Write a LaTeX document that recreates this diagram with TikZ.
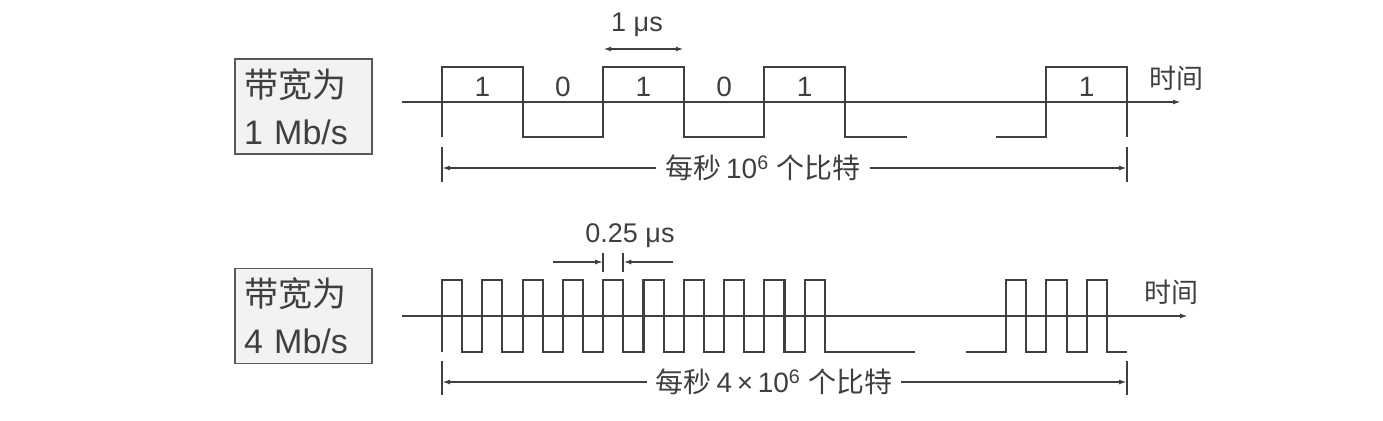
\documentclass[tikz,border=0pt]{standalone}
\usepackage{fontspec}
\setmainfont{Liberation Sans}
\newfontfamily\cjk{Noto Sans CJK SC}
\usetikzlibrary{arrows.meta}

\definecolor{ink}{HTML}{3F3F3F}
\definecolor{boxfill}{HTML}{F2F2F2}
\definecolor{boxline}{HTML}{595959}

\tikzset{
    sig/.style={line width=2.1pt, draw=ink},
    axisline/.style={line width=2.1pt, draw=ink, -{Latex[length=8pt,width=5pt]}},
    dimline/.style={line width=1.7pt, draw=ink},
    dimarrow/.style={dimline, -{Latex[length=8pt,width=5pt]}},
    bwbox/.style={draw=boxline, fill=boxfill, line width=1.2pt, text=ink,
        text width=119pt, inner xsep=9pt, minimum height=95pt, align=left,
        font=\fontsize{34}{47}\selectfont},
    bitlabel/.style={text=ink, font=\fontsize{28}{32}\selectfont},
    smalllabel/.style={text=ink, font=\fontsize{27}{32}\selectfont},
    countlabel/.style={text=ink, inner xsep=9pt, font=\fontsize{28}{32}\selectfont},
    timelabel/.style={text=ink, font=\fontsize{27}{32}\selectfont\cjk}
}

\begin{document}
\begin{tikzpicture}[x=1pt,y=-1pt]

    \useasboundingbox (0,0) rectangle (1383,420);

    % 基本の値
    \pgfmathsetmacro{\xO}{442}
    \pgfmathsetmacro{\xE}{1127}
    \pgfmathsetmacro{\T}{(\xE-\xO)/8.5}
    \pgfmathsetmacro{\tq}{\T/4}

    \pgfmathsetmacro{\hiA}{67}
    \pgfmathsetmacro{\loA}{137}
    \pgfmathsetmacro{\axA}{102}

    \pgfmathsetmacro{\hiB}{280}
    \pgfmathsetmacro{\loB}{352}
    \pgfmathsetmacro{\axB}{316}

    % 左の箱
    \node[bwbox] (bwA) at (303.5,106.5) {{\cjk 带宽为}\\1 Mb/s};
    \node[bwbox] (bwB) at (303.5,316) {{\cjk 带宽为}\\4 Mb/s};

    % 時間軸
    \coordinate (axA0) at (402,\axA);
    \coordinate (axA1) at (1181,\axA);
    \coordinate (axB0) at (402,\axB);
    \coordinate (axB1) at (1188,\axB);
    \draw [axisline] (axA0) -- (axA1);
    \draw [axisline] (axB0) -- (axB1);
    \node[timelabel] (tmA) at (1176,78) {时间};
    \node[timelabel] (tmB) at (1171,292) {时间};

    % 上段の信号 (1 Mb/s)
    \draw [sig] (\xO,\loA) |- ({\xO+\T},\hiA) |- ({\xO+2*\T},\loA)
        |- ({\xO+3*\T},\hiA) |- ({\xO+4*\T},\loA) |- ({\xO+5*\T},\hiA)
        |- ({\xO+5.77*\T},\loA);
    \draw [sig] (996,\loA) -- ({\xO+7.5*\T},\loA) |- (\xE,\hiA) -- (\xE,\loA);

    \foreach \b [count=\i from 0] in {1,0,1,0,1}
        \node[bitlabel] (bit\i) at ({\xO+(\i+0.5)*\T},87) {\b};
    \node[bitlabel] (bit8) at ({\xO+8*\T},87) {1};

    % 下段の信号 (4 Mb/s)
    \draw [sig] (\xO,\loB) \foreach \k in {1,...,10} {
        |- ++(\tq,{\hiB-\loB}) |- ++(\tq,{\loB-\hiB}) } -- (915,\loB);
    \draw [sig] (966,\loB) -- ({\xO+28*\tq},\loB) \foreach \k in {1,2,3} {
        |- ++(\tq,{\hiB-\loB}) |- ++(\tq,{\loB-\hiB}) };

    % 1 μs の寸法
    \node[smalllabel] (usA) at (637,25) {1 μs};
    \coordinate (pA1) at ({\xO+2*\T},49);
    \coordinate (pA2) at ({\xO+3*\T},49);
    \draw [dimline, {Latex[length=8pt,width=5pt]}-{Latex[length=8pt,width=5pt]}] (pA1) -- (pA2);

    % 0.25 μs の寸法
    \node[smalllabel] (usB) at (630,236) {0.25 μs};
    \coordinate (qB1) at ({\xO+8*\tq},262);
    \coordinate (qB2) at ({\xO+9*\tq},262);
    \coordinate (qL) at (553,262);
    \coordinate (qR) at (673,262);
    \draw [dimline] ([yshift=9pt]qB1) -- ([yshift=-10pt]qB1);
    \draw [dimline] ([yshift=9pt]qB2) -- ([yshift=-10pt]qB2);
    \draw [dimarrow] (qL) -- (qB1);
    \draw [dimarrow] (qR) -- (qB2);

    % 1 秒間の寸法
    \coordinate (dA1) at (\xO,168);
    \coordinate (dA2) at (\xE,168);
    \draw [dimline] ([yshift=21pt]dA1) -- ([yshift=-14pt]dA1);
    \draw [dimline] ([yshift=21pt]dA2) -- ([yshift=-14pt]dA2);
    \node[countlabel] (cntA) at (763,168) {{\cjk 每秒}\,10\textsuperscript{6} {\cjk 个比特}};
    \draw [dimarrow] (cntA.west) -- (dA1);
    \draw [dimarrow] (cntA.east) -- (dA2);

    \coordinate (dB1) at (\xO,382);
    \coordinate (dB2) at (\xE,382);
    \draw [dimline] ([yshift=21pt]dB1) -- ([yshift=-13pt]dB1);
    \draw [dimline] ([yshift=21pt]dB2) -- ([yshift=-13pt]dB2);
    \node[countlabel] (cntB) at (774,382) {{\cjk 每秒}\,4\,×\,10\textsuperscript{6} {\cjk 个比特}};
    \draw [dimarrow] (cntB.west) -- (dB1);
    \draw [dimarrow] (cntB.east) -- (dB2);

\end{tikzpicture}
\end{document}
